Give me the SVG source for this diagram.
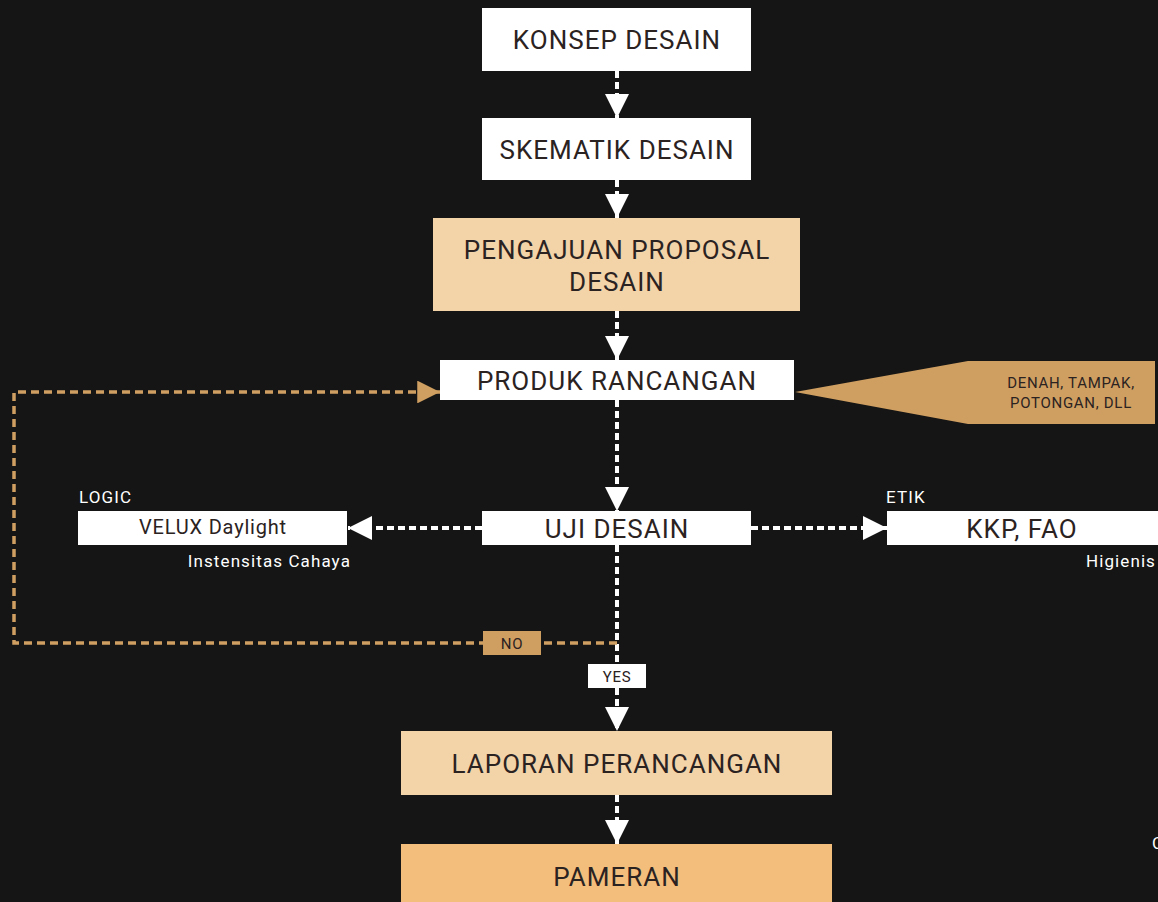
<svg xmlns="http://www.w3.org/2000/svg" width="1158" height="902" viewBox="0 0 1158 902">
  <style>
    .box-w { fill: #ffffff; }
    .box-l { fill: #f3d3a8; }
    .box-o { fill: #f3be7c; }
    .tan { fill: #cf9f61; }
    .t { font-family: Roboto, "Liberation Sans", sans-serif; fill: #2b2222; text-anchor: middle; font-weight: 400; }
    .big { font-size: 26px; letter-spacing: 1.0px; }
    .mid { font-size: 20px; letter-spacing: 0.8px; }
    .sm { font-size: 15px; letter-spacing: 0.7px; }
    .lbl { font-family: Roboto, "Liberation Sans", sans-serif; fill: #ffffff; font-size: 17px; letter-spacing: 1.1px; font-weight: 400; }
    .wline { stroke: #ffffff; stroke-width: 4; stroke-dasharray: 7 4; fill: none; }
    .oline { stroke: #cf9f61; stroke-width: 3.5; stroke-dasharray: 8 5; fill: none; }
  </style>
  <defs>
    <marker id="wArrow" viewBox="0 0 10 10" refX="10" refY="5" markerWidth="6" markerHeight="6" markerUnits="strokeWidth" orient="auto">
      <path d="M0,0 L10,5 L0,10 z" fill="#ffffff"/>
    </marker>
    <marker id="oArrow" viewBox="0 0 10 10" refX="10" refY="5" markerWidth="7" markerHeight="6.5" markerUnits="strokeWidth" orient="auto">
      <path d="M0,0 L10,5 L0,10 z" fill="#cf9f61"/>
    </marker>
  </defs>

  <rect width="1158" height="902" fill="#151515"/>

  <!-- connectors -->
  <g id="connectors">
    <line class="wline" x1="617" y1="71" x2="617" y2="118" marker-end="url(#wArrow)"/>
    <line class="wline" x1="617" y1="180" x2="617" y2="218" marker-end="url(#wArrow)"/>
    <line class="wline" x1="617" y1="311" x2="617" y2="360" marker-end="url(#wArrow)"/>
    <line class="wline" x1="617" y1="400" x2="617" y2="511" marker-end="url(#wArrow)"/>
    <line class="wline" x1="482" y1="528" x2="348" y2="528" marker-end="url(#wArrow)"/>
    <line class="wline" x1="751" y1="528" x2="887" y2="528" marker-end="url(#wArrow)"/>
    <line class="wline" x1="617" y1="545" x2="617" y2="731" marker-end="url(#wArrow)"/>
    <line class="wline" x1="617" y1="795" x2="617" y2="844" marker-end="url(#wArrow)"/>
    <polyline class="oline" points="617,643 14,643 14,392 440,392" marker-end="url(#oArrow)"/>
  </g>

  <g id="konsep">
    <rect class="box-w" x="482" y="8" width="269" height="63"/>
    <text class="t big" x="617" y="49">KONSEP DESAIN</text>
  </g>

  <g id="skematik">
    <rect class="box-w" x="482" y="118" width="269" height="62"/>
    <text class="t big" x="617" y="159">SKEMATIK DESAIN</text>
  </g>

  <g id="pengajuan">
    <rect class="box-l" x="433" y="218" width="367" height="93"/>
    <text class="t big" x="617" y="259">PENGAJUAN PROPOSAL</text>
    <text class="t big" x="617" y="291">DESAIN</text>
  </g>

  <g id="produk">
    <rect class="box-w" x="440" y="360" width="354" height="40"/>
    <text class="t big" x="617" y="390">PRODUK RANCANGAN</text>
  </g>

  <g id="keterangan">
    <polygon class="tan" points="795,392 968,361 1155,361 1155,424 968,424"/>
    <text class="t sm" x="1071" y="388">DENAH, TAMPAK,</text>
    <text class="t sm" x="1071" y="408">POTONGAN, DLL</text>
  </g>

  <g id="uji">
    <rect class="box-w" x="482" y="511" width="269" height="34"/>
    <text class="t big" x="617" y="538">UJI DESAIN</text>
  </g>

  <g id="velux">
    <text class="lbl" x="79" y="503">LOGIC</text>
    <rect class="box-w" x="78" y="511" width="269" height="34"/>
    <text class="t mid" x="213" y="534">VELUX Daylight</text>
    <text class="lbl" x="351" y="567" text-anchor="end">Instensitas Cahaya</text>
  </g>

  <g id="kkp">
    <text class="lbl" x="886" y="503">ETIK</text>
    <rect class="box-w" x="887" y="511" width="271" height="34"/>
    <text class="t big" x="1022" y="538">KKP, FAO</text>
    <text class="lbl" x="1156" y="567" text-anchor="end">Higienis</text>
  </g>

  <g id="no">
    <rect class="tan" x="483" y="631" width="58" height="24"/>
    <text class="t sm" x="512" y="649">NO</text>
  </g>

  <g id="yes">
    <rect class="box-w" x="588" y="664" width="58" height="24"/>
    <text class="t sm" x="617" y="682">YES</text>
  </g>

  <g id="laporan">
    <rect class="box-l" x="401" y="731" width="431" height="64"/>
    <text class="t big" x="617" y="773">LAPORAN PERANCANGAN</text>
  </g>

  <g id="pameran">
    <rect class="box-o" x="401" y="844" width="431" height="58"/>
    <text class="t big" x="617" y="886">PAMERAN</text>
  </g>

  <text class="lbl" x="1152" y="849" font-size="21">C</text>
</svg>
